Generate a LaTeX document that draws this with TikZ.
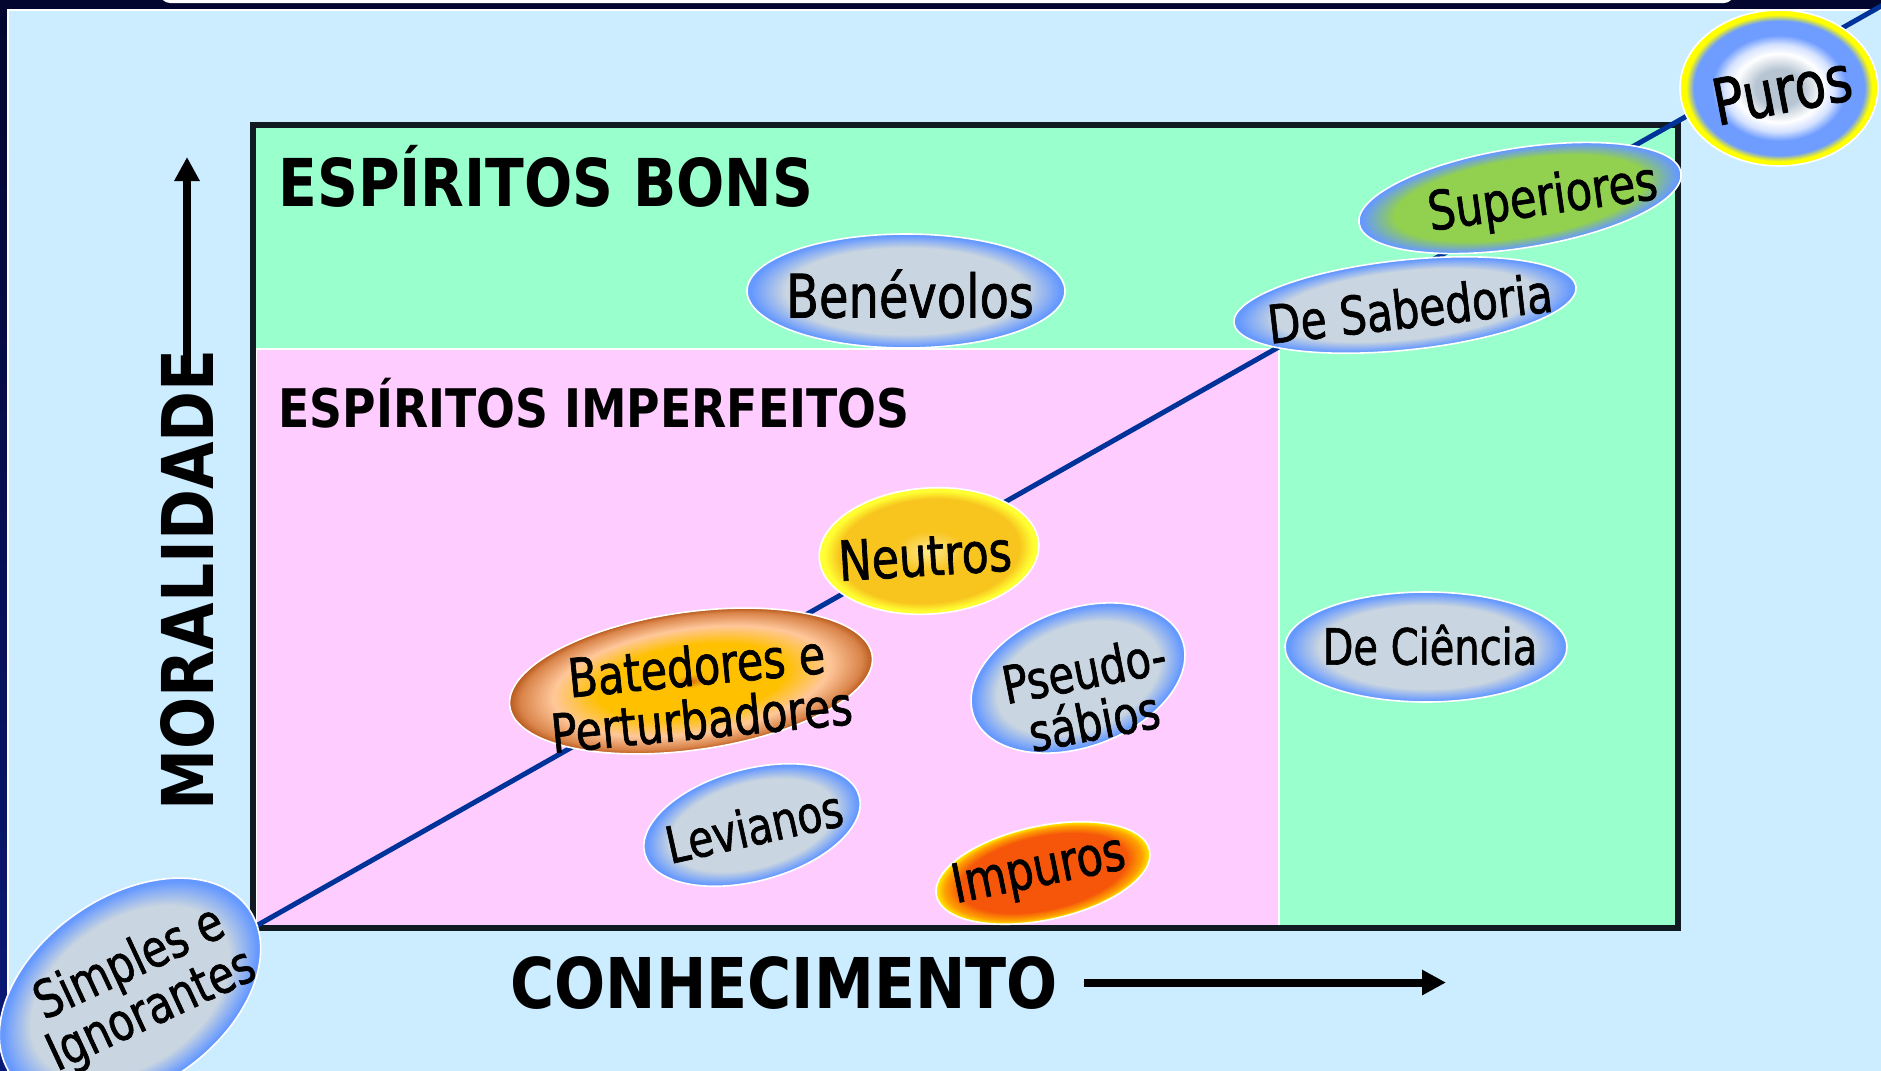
\documentclass[tikz,border=0pt]{standalone}
\usepackage{fontspec}
\setmainfont{DejaVu Sans}[FakeStretch=0.8, FakeBold=1.2]
\newfontfamily\headfont{DejaVu Sans}[FakeStretch=0.86]
\usetikzlibrary{arrows.meta, shapes.geometric}

\definecolor{navytop}{HTML}{03062E}
\definecolor{navybot}{HTML}{0A1A78}
\definecolor{panelblue}{HTML}{CCECFF}
\definecolor{goodgreen}{HTML}{99FFCC}
\definecolor{badpink}{HTML}{FFCCFF}
\definecolor{frameink}{HTML}{111A22}
\definecolor{pathblue}{HTML}{003399}
\definecolor{ovalgray}{HTML}{C9D5E0}
\definecolor{ovalrim}{HTML}{6699FF}
\definecolor{leafgreen}{HTML}{92D050}
\definecolor{goldcore}{HTML}{FFE98F}
\definecolor{goldmid}{HTML}{F8C41E}
\definecolor{goldrim}{HTML}{FFFF33}
\definecolor{firecore}{HTML}{F5560A}
\definecolor{fireedge}{HTML}{FFA000}
\definecolor{firerim}{HTML}{FFEE00}
\definecolor{ambercore}{HTML}{D4701A}
\definecolor{amberhot}{HTML}{FFC000}
\definecolor{amberpeach}{HTML}{FFC79A}
\definecolor{amberedge}{HTML}{D9844A}
\definecolor{amberrim}{HTML}{B85A1E}
\definecolor{puregray}{HTML}{B7C5D3}
\definecolor{pureblue}{HTML}{6E9CFF}
\definecolor{paleblue}{HTML}{D5E2FF}
\definecolor{pureyellow}{HTML}{FFFF00}

\pgfdeclareradialshading{grayoval}{\pgfpointorigin}{color(0bp)=(ovalgray); color(19bp)=(ovalgray); color(24.3bp)=(ovalrim); color(50bp)=(ovalrim)}
\pgfdeclareradialshading{greenoval}{\pgfpointorigin}{color(0bp)=(leafgreen); color(19.5bp)=(leafgreen); color(24.5bp)=(ovalrim); color(50bp)=(ovalrim)}
\pgfdeclareradialshading{goldoval}{\pgfpointorigin}{color(0bp)=(goldcore); color(8bp)=(goldmid); color(20.5bp)=(goldmid); color(23.8bp)=(goldrim); color(50bp)=(goldrim)}
\pgfdeclareradialshading{fireoval}{\pgfpointorigin}{color(0bp)=(firecore); color(19.5bp)=(firecore); color(23bp)=(fireedge); color(25bp)=(firerim); color(50bp)=(firerim)}
\pgfdeclareradialshading{amberoval}{\pgfpointorigin}{color(0bp)=(ambercore); color(2.5bp)=(amberhot); color(13bp)=(amberhot); color(19bp)=(amberpeach); color(23.5bp)=(amberedge); color(25bp)=(amberrim); color(50bp)=(amberrim)}
\pgfdeclareradialshading{pureoval}{\pgfpointorigin}{color(0bp)=(puregray); color(6bp)=(puregray); color(11bp)=(white); color(14bp)=(paleblue); color(17bp)=(pureblue); color(21.5bp)=(pureblue); color(23.5bp)=(pureyellow); color(50bp)=(pureyellow)}

\begin{document}
\begin{tikzpicture}[x=0.5pt, y=-0.5pt]
  \tikzset{oval/.style = {shape=ellipse, draw=white, line width=0.8pt, inner sep=0pt}}
  \tikzset{lbl/.style = {inner sep=0pt, align=center, font=\fontsize{#1}{#1}\selectfont}}
  \tikzset{heading/.style = {inner sep=0pt, font=\headfont\bfseries\fontsize{#1}{#1}\selectfont}}
  \tikzset{axis/.style = {line width=4pt, -{Triangle[length=12pt, width=12pt]}}}

  \useasboundingbox (0,0) rectangle (1881,1071);
  \shade[top color=navytop, bottom color=navybot] (0,0) rectangle (1881,1071);
  \fill[white, rounded corners=5pt] (160,-20) rectangle (1734,3);
  \filldraw[fill=panelblue, draw=white, line width=0.6pt] (8,10) rectangle (1900,1090);

  \fill[goodgreen] (253,125) rectangle (1678,928);
  \filldraw[fill=badpink, draw=white, line width=0.8pt] (256,349) rectangle (1279,928);
  \draw[frameink, line width=3pt] (253,125) rectangle (1678,928);

  \coordinate (low) at (256,926);
  \coordinate (high) at (1890,1);
  \draw[pathblue, line width=2.5pt] (low) -- (high);

  \node[heading=33, anchor=base west] (bons) at (278,206) {ESPÍRITOS BONS};
  \node[heading=26.6, anchor=base west] (imperf) at (278,427) {ESPÍRITOS IMPERFEITOS};
  \node[heading=35, anchor=base west] (know) at (510,1008) {CONHECIMENTO};
  \node[heading=35.7, anchor=base, rotate=90] (moral) at (213,580) {MORALIDADE};

  \coordinate (ktip) at (1446,982);
  \coordinate (mtip) at (187,157);
  \draw[axis, shorten <=13pt] (know.east) -- (know.east -| ktip);
  \draw[axis, shorten <=-18pt] (moral.east) -- (moral.east |- mtip);

  \node[oval, shading=pureoval, minimum width=99pt, minimum height=78pt] (puros) at (1779,88) {};
  \node[lbl=32, rotate=11] (purosT) at (1782,90) {Puros};
  \begin{scope}[transform canvas={rotate around={9:(1520,198)}}]
    \node[oval, shading=greenoval, minimum width=163pt, minimum height=50pt] (sup) at (1520,198) {};
  \end{scope}
  \node[lbl=27, rotate=8] (supT) at (1543,200) {Superiores};
  \begin{scope}[transform canvas={rotate around={6:(1405,305)}}]
    \node[oval, shading=grayoval, minimum width=172pt, minimum height=45pt] (sab) at (1405,305) {};
  \end{scope}
  \node[lbl=26.5, rotate=6.5] (sabT) at (1410,308) {De Sabedoria};
  \node[oval, shading=grayoval, minimum width=159pt, minimum height=57pt] (ben) at (906,291) {};
  \node[lbl=30] (benT) at (910,294) {Benévolos};
  \begin{scope}[transform canvas={rotate around={4:(929,551)}}]
    \node[oval, shading=goldoval, minimum width=110pt, minimum height=63pt] (neu) at (929,551) {};
  \end{scope}
  \node[lbl=27.7, rotate=3.5] (neuT) at (925,556) {Neutros};
  \begin{scope}[transform canvas={rotate around={8:(691,681)}}]
    \node[oval, shading=amberoval, minimum width=183pt, minimum height=69pt] (bat) at (691,681) {};
  \end{scope}
  \node[lbl=26.8, rotate=5.5] (batT) at (699,692) {Batedores e\\Perturbadores};
  \begin{scope}[transform canvas={rotate around={20:(1078,678)}}]
    \node[oval, shading=grayoval, minimum width=111pt, minimum height=69pt] (pse) at (1078,678) {};
  \end{scope}
  \node[lbl=26, rotate=11] (pseT) at (1089,695) {Pseudo-\\sábios};
  \node[oval, shading=grayoval, minimum width=141pt, minimum height=55pt] (cie) at (1426,647) {};
  \node[lbl=25] (cieT) at (1430,645) {De Ciência};
  \begin{scope}[transform canvas={rotate around={15:(752,825)}}]
    \node[oval, shading=grayoval, minimum width=111pt, minimum height=56pt] (lev) at (752,825) {};
  \end{scope}
  \node[lbl=25.5, rotate=12.5] (levT) at (754,826) {Levianos};
  \begin{scope}[transform canvas={rotate around={12:(1043,873)}}]
    \node[oval, shading=fireoval, minimum width=109pt, minimum height=47pt] (imp) at (1043,873) {};
  \end{scope}
  \node[lbl=27, rotate=11.5] (impT) at (1039,872) {Impuros};
  \begin{scope}[transform canvas={rotate around={35:(130,992)}}]
    \node[oval, shading=grayoval, minimum width=145pt, minimum height=95pt] (simp) at (130,992) {};
  \end{scope}
  \node[lbl=26, rotate=25] (simpT) at (141,988) {Simples e\\Ignorantes};
\end{tikzpicture}
\end{document}
